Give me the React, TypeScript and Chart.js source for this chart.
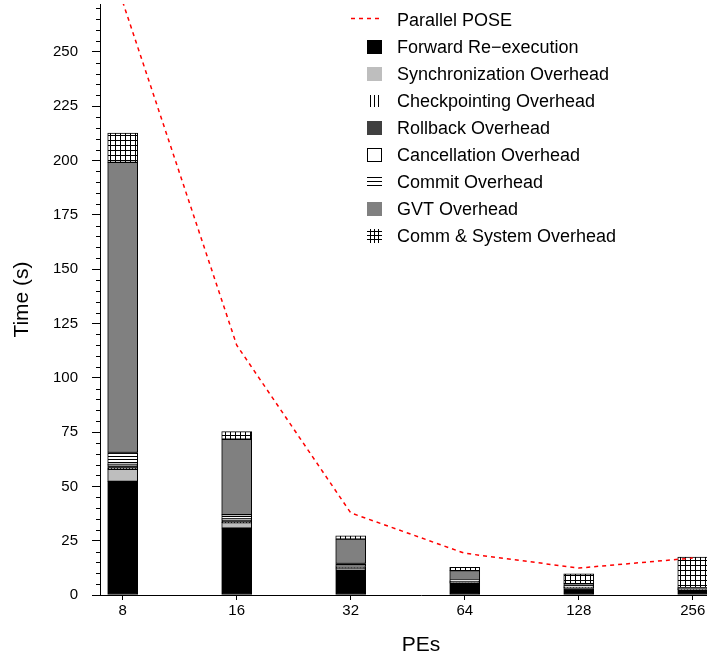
import React, { useEffect, useRef } from "react";
import { Chart, registerables } from "chart.js";

Chart.register(...registerables);

// Processor counts along the x axis
const peCounts = ["8", "16", "32", "64", "128", "256"];

// Total run time of the parallel simulator (s)
const parallelPose = [273, 115, 37.8, 19.2, 12.4, 17];

// Time breakdown per component (s), stacked bottom to top
const forwardReexec = [52.3, 30.8, 11.5, 5.5, 3.0, 2.3];
const syncOverhead = [5.5, 2.5, 0.8, 0.3, 0.3, 0.2];
const checkpointOverhead = [0.5, 0.3, 0.2, 0.1, 0.1, 0.1];
const rollbackOverhead = [1.2, 1.0, 0.6, 0.4, 0.3, 0.2];
const cancelOverhead = [0.6, 0.4, 0.2, 0.1, 0.1, 0.1];
const commitOverhead = [5.5, 2.0, 1.2, 0.4, 0.4, 0.2];
const gvtOverhead = [133.5, 34.7, 11.2, 4.4, 1.0, 0.3];
const commOverhead = [13.5, 3.5, 1.5, 1.5, 4.5, 14.0];

const yMax = 272;
const yMajorStep = 25;
const yMinorStep = 5;

const FONT = '"Liberation Sans", Arial, Helvetica, sans-serif';

// The plot runs a little past the right edge of the visible frame
const VIEW_W = 707;
const CANVAS_W = 742;
const CANVAS_H = 659;

type Glyph = "line" | "box" | "open" | "vertical" | "horizontal" | "grid";

function makePattern(kind: "vertical" | "horizontal" | "grid"): CanvasPattern {
  const size = kind === "grid" ? 5 : 3;
  const c = document.createElement("canvas");
  c.width = size;
  c.height = size;
  const g = c.getContext("2d")!;
  g.fillStyle = "#ffffff";
  g.fillRect(0, 0, size, size);
  g.fillStyle = "#000000";
  if (kind === "vertical" || kind === "grid") g.fillRect(0, 0, 1, size);
  if (kind === "horizontal" || kind === "grid") g.fillRect(0, 0, size, 1);
  return g.createPattern(c, "repeat")!;
}

export default function App() {
  const ref = useRef<HTMLCanvasElement>(null);

  useEffect(() => {
    document.body.style.margin = "0";
    document.body.style.overflow = "hidden";
    const canvas = ref.current!;

    const barSeries: { label: string; values: number[]; fill: string | CanvasPattern; glyph: Glyph }[] = [
      { label: "Forward Re\u2212execution", values: forwardReexec, fill: "#000000", glyph: "box" },
      { label: "Synchronization Overhead", values: syncOverhead, fill: "#bebebe", glyph: "box" },
      { label: "Checkpointing Overhead", values: checkpointOverhead, fill: makePattern("vertical"), glyph: "vertical" },
      { label: "Rollback Overhead", values: rollbackOverhead, fill: "#404040", glyph: "box" },
      { label: "Cancellation Overhead", values: cancelOverhead, fill: "#ffffff", glyph: "open" },
      { label: "Commit Overhead", values: commitOverhead, fill: makePattern("horizontal"), glyph: "horizontal" },
      { label: "GVT Overhead", values: gvtOverhead, fill: "#808080", glyph: "box" },
      { label: "Comm & System Overhead", values: commOverhead, fill: makePattern("grid"), glyph: "grid" },
    ];

    const glyphs: Glyph[] = ["line", ...barSeries.map((s) => s.glyph)];

    const datasets: any[] = [
      {
        type: "line",
        label: "Parallel POSE",
        data: parallelPose.map((y, i) => ({ x: i, y })),
        borderColor: "#ff0000",
        borderWidth: 1.5,
        borderDash: [4, 4],
        pointRadius: 0,
        fill: false,
        stack: "pose",
        order: 0,
      },
      ...barSeries.map((s) => ({
        type: "bar",
        label: s.label,
        data: s.values.map((y, i) => ({ x: i, y })),
        backgroundColor: s.fill,
        borderColor: "#000000",
        borderWidth: 1,
        borderSkipped: false,
        barThickness: 30,
        stack: "breakdown",
        order: 1,
      })),
    ];

    // Minor tick marks on the value axis
    const minorTicks = {
      id: "minorTicks",
      afterDraw(chart: any) {
        const y = chart.scales.y;
        const ctx = chart.ctx;
        const x = Math.round(y.right) + 0.5;
        ctx.save();
        ctx.strokeStyle = "#000";
        ctx.lineWidth = 1;
        ctx.beginPath();
        for (let v = 0; v <= yMax; v += yMinorStep) {
          if (v % yMajorStep === 0) continue;
          const py = Math.round(y.getPixelForValue(v)) + 0.5;
          ctx.moveTo(x - 4.5, py);
          ctx.lineTo(x, py);
        }
        ctx.stroke();
        ctx.restore();
      },
    };

    // Key in the upper right of the plot
    const keyPlugin = {
      id: "key",
      afterDraw(chart: any) {
        const ctx = chart.ctx;
        const sx = 367;
        const tx = 397;
        ctx.save();
        ctx.font = `18px ${FONT}`;
        ctx.textBaseline = "middle";
        ctx.textAlign = "left";
        chart.data.datasets.forEach((ds: any, i: number) => {
          const cy = 20 + i * 27.05;
          const g = glyphs[i];
          ctx.save();
          if (g === "line") {
            ctx.strokeStyle = ds.borderColor;
            ctx.lineWidth = 1.5;
            ctx.setLineDash([4, 4]);
            ctx.beginPath();
            ctx.moveTo(351, Math.round(cy) - 1.5);
            ctx.lineTo(383, Math.round(cy) - 1.5);
            ctx.stroke();
          } else if (g === "box") {
            ctx.fillStyle = ds.backgroundColor;
            ctx.fillRect(sx, Math.round(cy - 7), 15, 14);
          } else if (g === "open") {
            ctx.strokeStyle = "#000";
            ctx.lineWidth = 1;
            ctx.strokeRect(sx + 0.5, Math.round(cy - 7) + 0.5, 14, 13);
          } else if (g === "vertical") {
            ctx.fillStyle = "#000";
            for (let k = 0; k < 3; k++) ctx.fillRect(sx + 3 + k * 4, Math.round(cy - 6), 1, 12);
          } else if (g === "horizontal") {
            ctx.fillStyle = "#000";
            for (let k = 0; k < 3; k++) ctx.fillRect(sx, Math.round(cy - 5) + k * 4, 15, 1);
          } else if (g === "grid") {
            ctx.fillStyle = "#000";
            for (let k = 0; k < 3; k++) ctx.fillRect(sx + 3 + k * 4, Math.round(cy - 7), 1, 14);
            for (let k = 0; k < 3; k++) ctx.fillRect(sx, Math.round(cy - 5) + k * 4, 15, 1);
          }
          ctx.restore();
          ctx.fillStyle = "#000";
          ctx.fillText(ds.label, tx, cy + 1);
        });
        ctx.restore();
      },
    };

    const chart = new Chart(canvas, {
      type: "bar",
      data: { datasets },
      options: {
        animation: false,
        responsive: false,
        devicePixelRatio: 1,
        layout: { padding: { top: 4, right: 0, bottom: 0, left: 0 } },
        plugins: {
          legend: { display: false },
          tooltip: { enabled: false },
        },
        scales: {
          x: {
            type: "linear",
            min: -0.199,
            max: 5.432,
            offset: false,
            stacked: true,
            afterBuildTicks: (scale: any) => {
              scale.ticks = peCounts.map((_, i) => ({ value: i }));
            },
            afterFit: (scale: any) => {
              scale.height = 64;
              scale.paddingLeft = 0;
              scale.paddingRight = 0;
            },
            ticks: {
              autoSkip: false,
              maxRotation: 0,
              padding: 2,
              color: "#000",
              font: { family: FONT, size: 15 },
              callback: (v: any) => peCounts[v] ?? "",
            },
            grid: {
              offset: false,
              drawOnChartArea: false,
              drawTicks: true,
              tickLength: 5,
              tickColor: "#000",
            },
            border: { color: "#000", width: 1 },
            title: {
              display: true,
              text: "PEs",
              color: "#000",
              font: { family: FONT, size: 21 },
              padding: { top: 0, bottom: 1.5 },
            },
          },
          y: {
            type: "linear",
            min: 0,
            max: yMax,
            stacked: true,
            afterFit: (scale: any) => {
              scale.width = 100;
              scale.paddingTop = 0;
              scale.paddingBottom = 0;
            },
            ticks: {
              stepSize: yMinorStep,
              includeBounds: false,
              autoSkip: false,
              padding: 14,
              color: "#000",
              font: { family: FONT, size: 15 },
              callback: (v: any) => (Number(v) % yMajorStep === 0 ? String(v) : ""),
            },
            grid: {
              drawOnChartArea: false,
              drawTicks: true,
              tickLength: 8,
              tickColor: (c: any) => (c.tick && c.tick.value % yMajorStep === 0 ? "#000" : "rgba(0,0,0,0)"),
            },
            border: { color: "#000", width: 1 },
            title: {
              display: true,
              text: "Time (s)",
              color: "#000",
              font: { family: FONT, size: 21 },
              padding: { top: 9.5, bottom: 0 },
            },
          },
        },
      } as any,
      plugins: [minorTicks, keyPlugin],
    });

    return () => chart.destroy();
  }, []);

  return (
    <div style={{ width: VIEW_W, height: CANVAS_H, overflow: "hidden" }}>
      <canvas ref={ref} width={CANVAS_W} height={CANVAS_H} style={{ display: "block" }} />
    </div>
  );
}
